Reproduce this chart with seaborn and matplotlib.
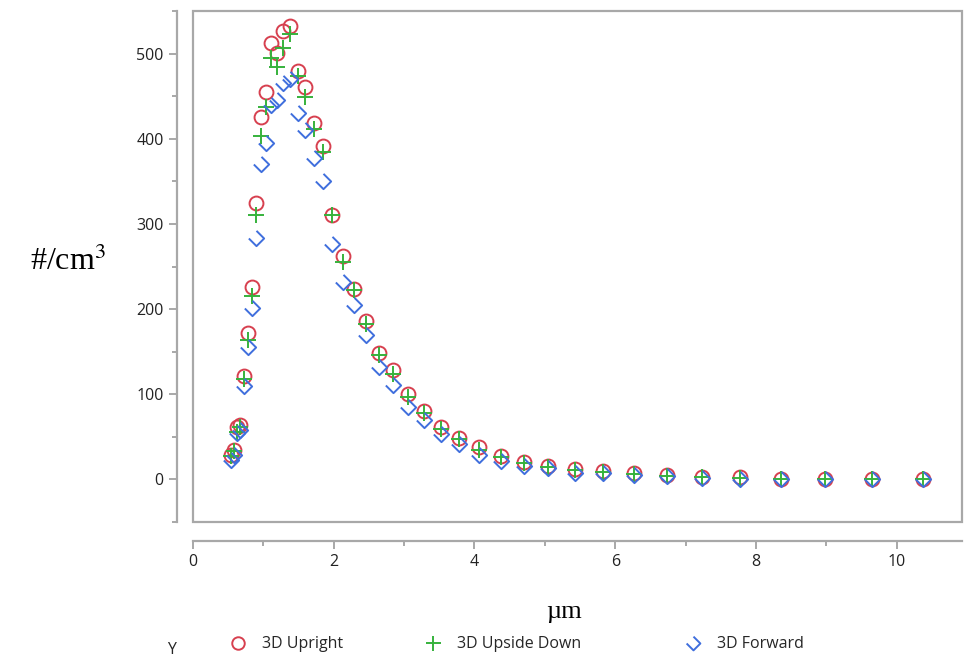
import matplotlib
matplotlib.use('Agg')
import matplotlib.pyplot as plt
import seaborn as sns
import pandas as pd
from matplotlib.path import Path
from matplotlib.patches import Rectangle
from matplotlib.ticker import MultipleLocator
from matplotlib.lines import Line2D

# particle diameter bins (um)
diam = [0.542, 0.583, 0.626, 0.673, 0.723, 0.777, 0.835, 0.898, 0.965, 1.037,
        1.114, 1.197, 1.286, 1.382, 1.486, 1.596, 1.715, 1.843, 1.981, 2.129,
        2.288, 2.458, 2.642, 2.839, 3.051, 3.278, 3.523, 3.786, 4.068, 4.371,
        4.698, 5.048, 5.425, 5.829, 6.264, 6.732, 7.234, 7.774, 8.354, 8.977,
        9.647, 10.37]

upright = [29, 35, 61, 64, 122, 172, 226, 324, 425, 455,
           513, 501, 527, 532, 480, 461, 419, 392, 310, 262,
           224, 186, 149, 128, 100, 80, 61, 49, 38, 28,
           21, 16, 12, 10, 7, 5, 3, 3, 1, 0.5,
           0.5, 0.3]

upside_down = [27, 33, 56, 61, 118, 164, 215, 310, 403, 437,
               495, 484, 507, 523, 474, 449, 412, 384, 310, 255,
               222, 183, 146, 124, 97, 78, 59, 47, 35, 26,
               19, 15, 11, 9, 6, 4, 3, 2, 1, 0.5,
               0.3, 0.2]

forward = [23, 29, 55, 58, 110, 156, 201, 284, 370, 395,
           440, 445, 466, 470, 430, 410, 377, 351, 276, 232,
           205, 169, 132, 111, 85, 70, 53, 41, 29, 22,
           16, 13, 8, 7, 5, 4, 2, 1, 0, 0,
           0, 0]

series_names = ['3D Upright', '3D Upside Down', '3D Forward']

df = pd.DataFrame({'diam': diam, '3D Upright': upright,
                   '3D Upside Down': upside_down, '3D Forward': forward})

# open diamond with the top-left edge missing
chevron = Path([(0, 1), (1, 0), (0, -1), (-1, 0)],
               [Path.MOVETO, Path.LINETO, Path.LINETO, Path.LINETO])

styles = {
    '3D Upright': dict(marker='o', color='#D7404F', ms=10),
    '3D Upside Down': dict(marker='+', color='#36B23C', ms=12),
    '3D Forward': dict(marker=chevron, color='#3F6EDD', ms=11),
}

sns.set_theme(style='white')
plt.rcParams['font.family'] = ['Open Sans', 'DejaVu Sans']
plt.rcParams['mathtext.fontset'] = 'stix'

gray = '#A8A8A8'
fig = plt.figure(figsize=(9.65, 6.61), dpi=100)
ax = fig.add_axes([0.2, 0.2103, 0.797, 0.773])

for name in series_names:
    st = styles[name]
    sns.lineplot(data=df, x='diam', y=name, ax=ax, estimator=None, sort=False,
                 marker=st['marker'], linestyle='', markersize=st['ms'],
                 markerfacecolor='none', markeredgecolor=st['color'],
                 markeredgewidth=1.4, color=st['color'])

ax.set_xlim(0, 10.93)
ax.set_ylim(-50, 550)

# plot frame
ax.add_patch(Rectangle((0, 0), 1, 1, transform=ax.transAxes, fill=False,
                       edgecolor=gray, linewidth=1.6, clip_on=False, zorder=5))

# detached axes
for side in ['top', 'right']:
    ax.spines[side].set_visible(False)
ax.spines['left'].set_position(('outward', 11.5))
ax.spines['bottom'].set_position(('outward', 13.5))
for side in ['left', 'bottom']:
    ax.spines[side].set_color(gray)
    ax.spines[side].set_linewidth(1.6)

ax.yaxis.set_major_locator(MultipleLocator(100))
ax.yaxis.set_minor_locator(MultipleLocator(50))
ax.xaxis.set_major_locator(MultipleLocator(2))
ax.xaxis.set_minor_locator(MultipleLocator(1))
ax.tick_params(which='major', direction='out', length=6, width=1.4, color=gray,
               labelsize=11.5, labelcolor='#222222', left=True, bottom=True)
ax.tick_params(which='minor', direction='out', length=3.5, width=1.4, color=gray,
               left=True, bottom=True)

ax.set_ylabel(r'#/cm$^3$', rotation=0, fontsize=23, family='Liberation Serif',
              color='black')
ax.yaxis.set_label_coords(-0.162, 0.48)
ax.set_xlabel('µm', fontsize=19, family='Liberation Serif', color='black')
ax.xaxis.set_label_coords(0.482, -0.155)

# legend entries at fixed positions along the bottom
legend_x = [0.2234, 0.4255, 0.6949]
for name, lx in zip(series_names, legend_x):
    st = styles[name]
    h = Line2D([], [], linestyle='', marker=st['marker'],
               markersize=st['ms'] * 0.9, markerfacecolor='none',
               markeredgecolor=st['color'], markeredgewidth=1.4)
    leg = fig.legend([h], [name], loc='center left',
                     bbox_to_anchor=(lx, 0.025), frameon=False, fontsize=11.5,
                     handlelength=1.0, handletextpad=1.0)
fig.text(0.178, 0.016, 'Y', fontsize=11.5, ha='center', va='center')

fig.savefig('out.png', dpi=100)
